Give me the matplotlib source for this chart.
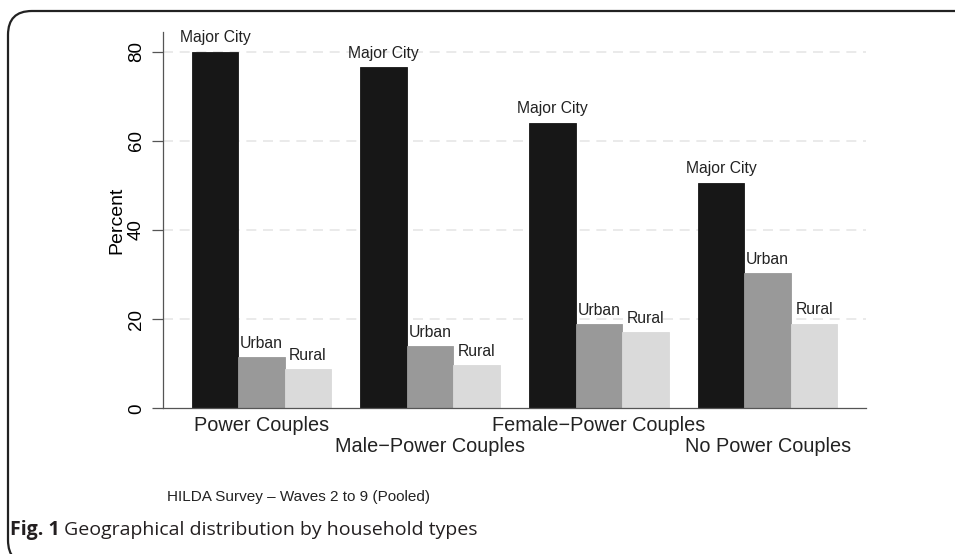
import numpy as np
import matplotlib
matplotlib.use("Agg")
import matplotlib.pyplot as plt
from matplotlib.patches import FancyBboxPatch

# data
groups = ["Power Couples", "Male\u2212Power Couples",
          "Female\u2212Power Couples", "No Power Couples"]
areas = ["Major City", "Urban", "Rural"]
major_city = [80.0, 76.5, 64.1, 50.6]
urban = [11.4, 14.0, 18.8, 30.4]
rural = [8.8, 9.7, 17.1, 19.0]
yticks = [0, 20, 40, 60, 80]

colors = ["#171717", "#999999", "#dadada"]
plt.rcParams['font.family'] = ['Liberation Sans', 'DejaVu Sans']

fig = plt.figure(figsize=(9.55, 5.54), dpi=100)
ax = fig.add_axes([163 / 955, 1 - 408.3 / 554, (866 - 163) / 955, (408.3 - 32) / 554])

w = 0.2756
x = np.arange(len(groups))
series = [major_city, urban, rural]
for k, (vals, col, name) in enumerate(zip(series, colors, areas)):
    pos = x + (k - 1) * w
    ax.bar(pos, vals, width=w, color=col, edgecolor=col, linewidth=0.6, zorder=2)
    for p, v in zip(pos, vals):
        ax.text(p, v + 1.4, name, ha="center", va="bottom", fontsize=11.3,
                color="#222222", zorder=3)

ax.set_xlim(-0.584, 3.583)
ax.set_ylim(0, 84.4)
ax.set_yticks(yticks)
ax.set_yticklabels([str(t) for t in yticks], rotation=90, va="center", fontsize=13.5)
ax.tick_params(axis="y", length=8, width=0.9, color="#555555", pad=5)
ax.set_xticks([])
for t in yticks[1:]:
    ax.axhline(t, color="#e6e6e6", lw=1.2, ls=(0, (6, 4)), zorder=1)

for s in ["top", "right"]:
    ax.spines[s].set_visible(False)
ax.spines["left"].set_color("#555555")
ax.spines["bottom"].set_color("#555555")
ax.spines["left"].set_linewidth(0.9)
ax.spines["bottom"].set_linewidth(0.9)

ax.set_ylabel("Percent", fontsize=14, labelpad=2)

# staggered category labels
for i, g in enumerate(groups):
    yoff = -3.8 if i % 2 == 0 else -8.5
    ax.text(i, yoff, g, ha="center", va="center", fontsize=14.3,
            color="#222222", clip_on=False)

fig.text(167 / 955, 1 - 497 / 554, "HILDA Survey \u2013 Waves 2 to 9 (Pooled)",
         fontsize=11, va="center", ha="left", color="#222222")

cap_font = ["Open Sans", "DejaVu Sans"]
fig.text(10 / 955, 1 - 530 / 554, "Fig. 1", fontsize=14, fontweight="bold",
         va="center", ha="left", color="#231f20", family=cap_font)
fig.text(64 / 955, 1 - 530 / 554, "Geographical distribution by household types",
         fontsize=14, va="center", ha="left", color="#231f20", family=cap_font)

# rounded frame running off the right and bottom edges
frame = FancyBboxPatch((8 / 955, -10 / 554), 1.05, 1 + (10 - 11) / 554,
                       boxstyle="round,pad=0,rounding_size=0.025",
                       transform=fig.transFigure, fill=False,
                       edgecolor="#222222", linewidth=1.6, clip_on=False,
                       mutation_aspect=955 / 554)
fig.patches.append(frame)

fig.savefig("out.png", dpi=100)
